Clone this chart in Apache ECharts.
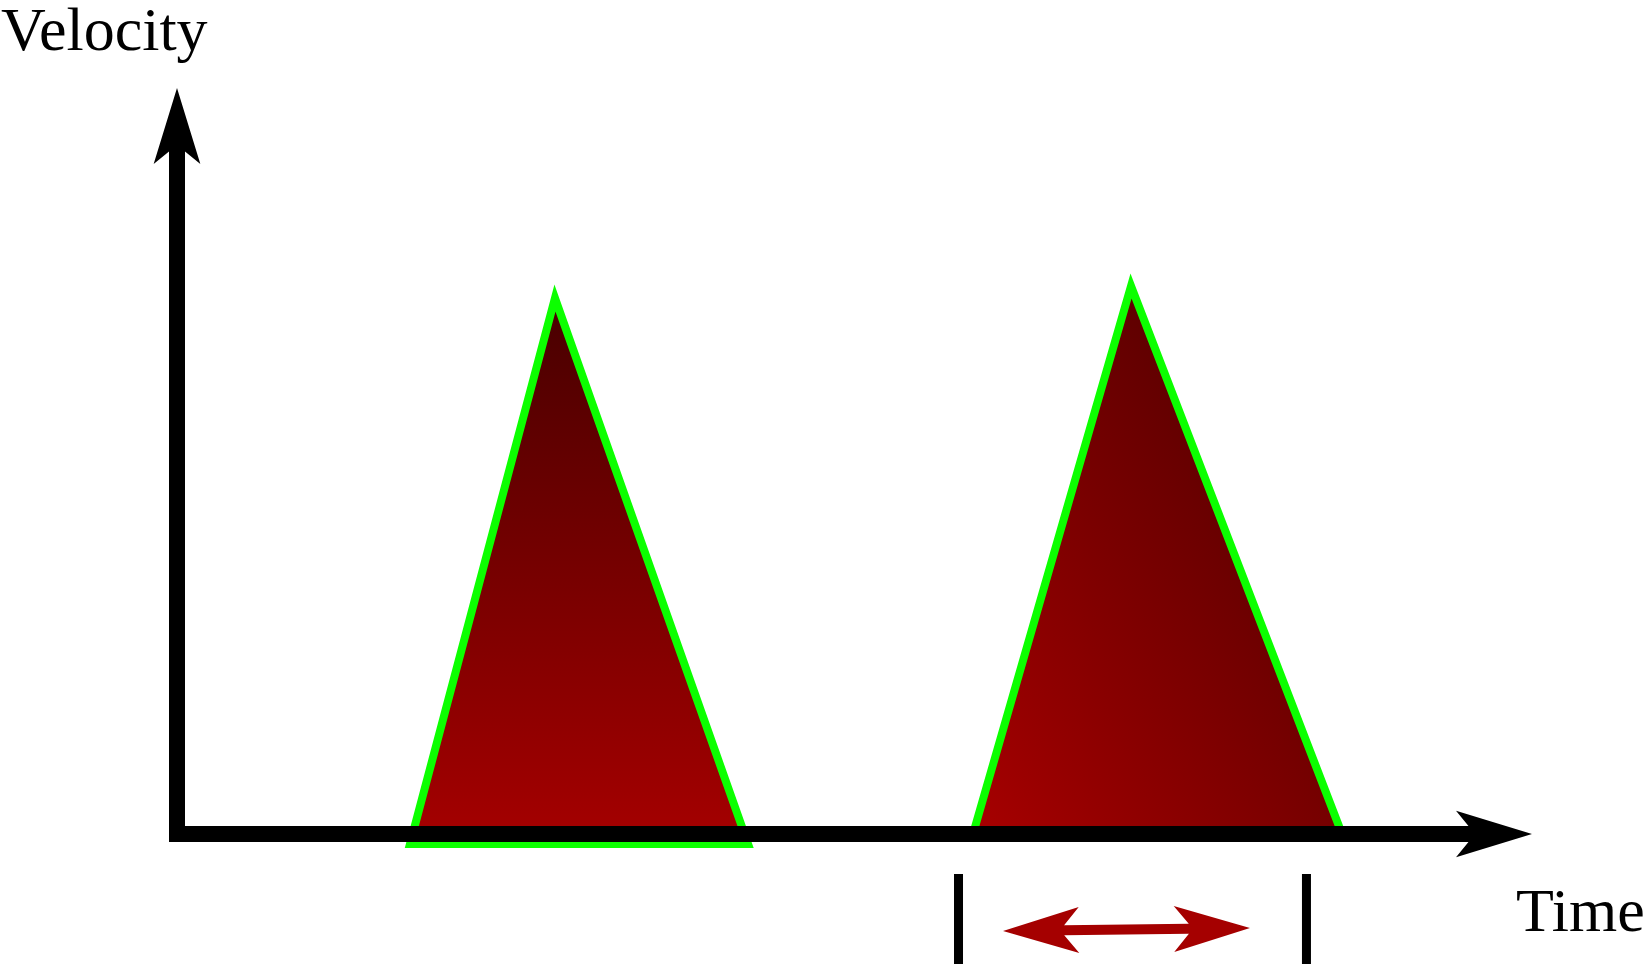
<!DOCTYPE html>
<html>
<head>
<meta charset="utf-8">
<title>Velocity pulses</title>
<script src="https://cdn.jsdelivr.net/npm/echarts@6/dist/echarts.min.js"></script>
<style>
  html, body { margin: 0; padding: 0; background: #fff; }
  #chart { width: 1646px; height: 964px; }
</style>
</head>
<body>
<div id="chart"></div>
<script>
// axis ranges (arbitrary units)
var timeMax = 100;
var velocityMax = 100;

// the two pulses: left foot, peak, right foot
var pulseOneTime = [17.69, 28.70, 43.36];
var pulseOneVelocity = [-1.41, 75.7, -1.41];
var pulseTwoTime = [60.44, 72.44, 88.46];
var pulseTwoVelocity = [0, 77.4, 0];

// interval marks under the time axis
var markTimes = [59.34, 85.76];
var markVelocity = [-5.65, -19];

// double arrow between the marks (tip to tip)
var spanTime = [62.72, 81.47];
var spanVelocity = [-13.70, -13.28];

var pulses = [
  { time: pulseOneTime, velocity: pulseOneVelocity },
  { time: pulseTwoTime, velocity: pulseTwoVelocity }
];

var pulseFills = [
  new echarts.graphic.LinearGradient(0, 0, 0, 1, [
    { offset: 0, color: '#470000' },
    { offset: 1, color: '#a60000' }
  ]),
  new echarts.graphic.LinearGradient(0, 1, 1.36, 0.35, [
    { offset: 0, color: '#a80000' },
    { offset: 1, color: '#420000' }
  ])
];

var markData = [];
markTimes.forEach(function (t, i) {
  if (i > 0) markData.push('-');
  markData.push([t, markVelocity[0]]);
  markData.push([t, markVelocity[1]]);
});

var axisLine = {
  show: true,
  symbol: ['none', 'arrow'],
  symbolSize: [35, 76],
  symbolOffset: [0, 38],
  lineStyle: { color: '#000', width: 16, cap: 'square' }
};

var font = 'Liberation Serif';

// double headed arrow, head sizes in px
var headLen = 76, headHalf = 23, notchLen = 57, shaftHalf = 5;
function doubleArrow(a, b) {
  var dx = b[0] - a[0], dy = b[1] - a[1];
  var len = Math.sqrt(dx * dx + dy * dy);
  var u = [dx / len, dy / len];
  var n = [-u[1], u[0]];
  var shaftAt = notchLen + (headLen - notchLen) * shaftHalf / headHalf;
  function pt(base, along, side) {
    return [base[0] + u[0] * along + n[0] * side, base[1] + u[1] * along + n[1] * side];
  }
  return [
    a,
    pt(a, headLen, headHalf),
    pt(a, shaftAt, shaftHalf),
    pt(b, -shaftAt, shaftHalf),
    pt(b, -headLen, headHalf),
    b,
    pt(b, -headLen, -headHalf),
    pt(b, -shaftAt, -shaftHalf),
    pt(a, shaftAt, -shaftHalf),
    pt(a, headLen, -headHalf)
  ];
}

var option = {
  animation: false,
  backgroundColor: '#fff',
  title: [
    { text: 'Velocity', left: 1, top: 3, padding: 0,
      textStyle: { fontFamily: font, fontSize: 62, fontWeight: 'normal', color: '#000' } },
    { text: 'Time', left: 1516, top: 884, padding: 0,
      textStyle: { fontFamily: font, fontSize: 62, fontWeight: 'normal', color: '#000' } }
  ],
  grid: { left: 177, right: 152, top: 126, bottom: 130 },
  xAxis: {
    type: 'value', min: 0, max: timeMax, z: 10,
    axisLine: axisLine,
    axisTick: { show: false }, axisLabel: { show: false }, splitLine: { show: false }
  },
  yAxis: {
    type: 'value', min: 0, max: velocityMax, z: 10,
    axisLine: axisLine,
    axisTick: { show: false }, axisLabel: { show: false }, splitLine: { show: false }
  },
  series: [
    {
      type: 'custom',
      z: 2,
      data: [[0], [1]],
      renderItem: function (params, api) {
        var p = pulses[params.dataIndex];
        var points = p.time.map(function (t, k) {
          return api.coord([t, p.velocity[k]]);
        });
        return {
          type: 'polygon',
          shape: { points: points },
          style: {
            fill: pulseFills[params.dataIndex],
            stroke: '#0cff00',
            lineWidth: 8,
            lineJoin: 'miter'
          }
        };
      }
    },
    {
      type: 'line',
      clip: false,
      symbol: 'none',
      data: markData,
      lineStyle: { color: '#000', width: 9 }
    },
    {
      type: 'custom',
      z: 3,
      data: [[0]],
      renderItem: function (params, api) {
        var a = api.coord([spanTime[0], spanVelocity[0]]);
        var b = api.coord([spanTime[1], spanVelocity[1]]);
        return {
          type: 'polygon',
          shape: { points: doubleArrow(a, b) },
          style: { fill: '#a50000' }
        };
      }
    }
  ]
};

var chart = echarts.init(document.getElementById('chart'));
chart.setOption(option);
</script>
</body>
</html>
